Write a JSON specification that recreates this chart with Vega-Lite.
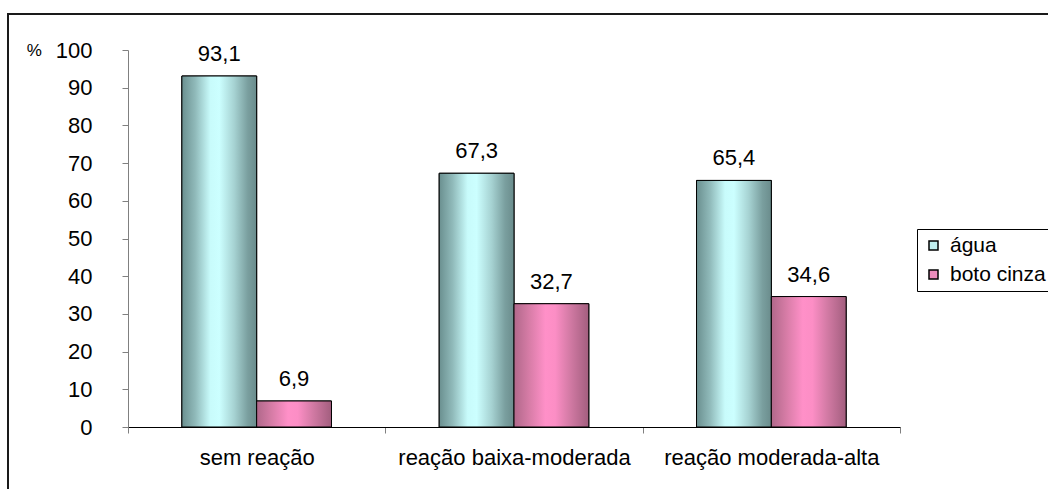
{
  "$schema": "https://vega.github.io/schema/vega-lite/v6.json",
  "width": 1050,
  "height": 480,
  "autosize": {"type": "none"},
  "padding": {"left": 8, "top": 14, "right": 0, "bottom": 0},
  "background": "white",
  "config": {
    "locale": {"number": {"decimal": ",", "thousands": ".", "grouping": [3], "currency": ["", " €"]}},
    "view": {"stroke": "#1a1a1a", "strokeWidth": 2},
    "font": "Liberation Sans",
    "axis": {"grid": false, "labelFont": "Liberation Sans", "titleFont": "Liberation Sans", "labelColor": "black", "titleColor": "black"},
    "legend": {"labelFont": "Liberation Sans"}
  },
  "data": {
    "values": [
      {"reacao": "sem reação", "serie": "água", "pct": 93.1},
      {"reacao": "sem reação", "serie": "boto cinza", "pct": 6.9},
      {"reacao": "reação baixa-moderada", "serie": "água", "pct": 67.3},
      {"reacao": "reação baixa-moderada", "serie": "boto cinza", "pct": 32.7},
      {"reacao": "reação moderada-alta", "serie": "água", "pct": 65.4},
      {"reacao": "reação moderada-alta", "serie": "boto cinza", "pct": 34.6}
    ]
  },
  "encoding": {
    "x": {
      "field": "reacao",
      "type": "nominal",
      "sort": ["sem reação", "reação baixa-moderada", "reação moderada-alta"],
      "scale": {"domain": ["sem reação", "reação baixa-moderada", "reação moderada-alta"], "range": [120, 892], "paddingInner": 0, "paddingOuter": 0},
      "axis": {
        "title": null,
        "orient": "bottom",
        "offset": -67,
        "tickBand": "extent",
        "domainColor": "black",
        "tickColor": "#808080",
        "tickSize": 6,
        "labelPadding": 14,
        "labelFontSize": 22,
        "labelLimit": 0,
        "labelAngle": 0
      }
    },
    "xOffset": {
      "field": "serie",
      "type": "nominal",
      "scale": {"domain": ["água", "boto cinza"], "paddingOuter": 0.72, "paddingInner": 0}
    },
    "y": {
      "field": "pct",
      "type": "quantitative",
      "scale": {"domain": [0, 100], "range": [413, 36], "nice": false},
      "axis": {
        "title": "%",
        "orient": "left",
        "offset": -120,
        "values": [0, 10, 20, 30, 40, 50, 60, 70, 80, 90, 100],
        "domainColor": "#808080",
        "tickColor": "#808080",
        "tickSize": 6,
        "labelPadding": 30,
        "labelFontSize": 22,
        "titleAngle": 0,
        "titleAnchor": "end",
        "titleAlign": "right",
        "titleBaseline": "middle",
        "titleFontSize": 17,
        "titleFontWeight": "normal",
        "titlePadding": 14
      }
    }
  },
  "layer": [
    {
      "mark": {"type": "bar", "stroke": "black", "strokeWidth": 1},
      "encoding": {
        "fill": {
          "field": "serie",
          "type": "nominal",
          "scale": {"domain": ["água", "boto cinza"], "range": ["#bfeeee", "#ec8cbc"]},
          "legend": {
            "title": null,
            "orient": "none",
            "legendX": 909,
            "legendY": 215,
            "strokeColor": "black",
            "fillColor": "white",
            "padding": 6,
            "symbolType": "square",
            "symbolSize": 81,
            "symbolStrokeColor": "black",
            "symbolStrokeWidth": 1.5,
            "labelFontSize": 21,
            "labelColor": "black",
            "labelOffset": 6,
            "rowPadding": 7
          }
        }
      }
    },
    {
      "transform": [{"filter": "datum.serie === 'água'"}],
      "mark": {
        "type": "bar",
        "stroke": "black",
        "strokeWidth": 1,
        "fill": {
          "gradient": "linear",
          "x1": 0, "y1": 0, "x2": 1, "y2": 0,
          "stops": [
            {"offset": 0, "color": "#6a8f8f"},
            {"offset": 0.18, "color": "#90baba"},
            {"offset": 0.38, "color": "#c8fbfb"},
            {"offset": 0.5, "color": "#ccffff"},
            {"offset": 0.7, "color": "#a6d2d2"},
            {"offset": 0.88, "color": "#7a9f9f"},
            {"offset": 1, "color": "#6a8c8c"}
          ]
        }
      }
    },
    {
      "transform": [{"filter": "datum.serie === 'boto cinza'"}],
      "mark": {
        "type": "bar",
        "stroke": "black",
        "strokeWidth": 1,
        "fill": {
          "gradient": "linear",
          "x1": 0, "y1": 0, "x2": 1, "y2": 0,
          "stops": [
            {"offset": 0, "color": "#b0688a"},
            {"offset": 0.2, "color": "#d67ca6"},
            {"offset": 0.42, "color": "#ff90c8"},
            {"offset": 0.55, "color": "#fc8ec5"},
            {"offset": 0.75, "color": "#d27aa4"},
            {"offset": 1, "color": "#a25e7e"}
          ]
        }
      }
    },
    {
      "mark": {"type": "text", "dy": -15, "baseline": "alphabetic", "fontSize": 22, "font": "Liberation Sans", "color": "black"},
      "encoding": {
        "text": {"field": "pct", "type": "quantitative", "format": ".1f"}
      }
    }
  ]
}
